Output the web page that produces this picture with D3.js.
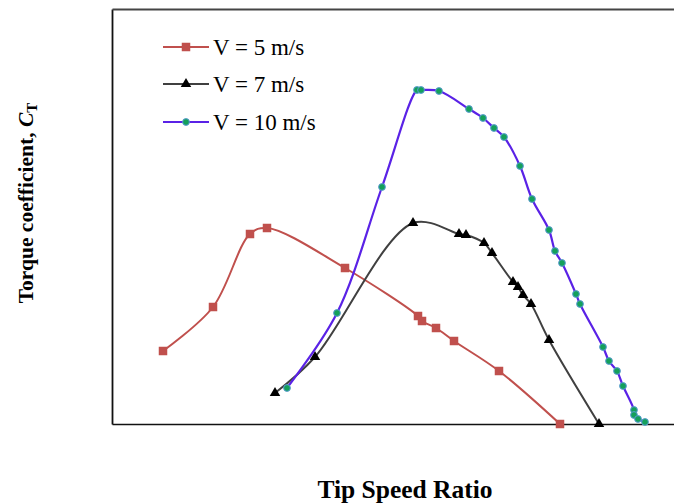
<!DOCTYPE html>
<html>
<head>
<meta charset="utf-8">
<script src="https://cdn.jsdelivr.net/npm/d3@7"></script>
<style>
  html, body { margin: 0; padding: 0; background: #fff; }
  svg { display: block; }
  text { font-family: "Liberation Serif", "Times New Roman", serif; }
</style>
</head>
<body>
<svg id="chart" width="674" height="504"></svg>
<script>
// ---- Data ----
const seriesNames = ["V = 5 m/s", "V = 7 m/s", "V = 10 m/s"];

const tsr5 = [0.51, 1.01, 1.38, 1.55, 2.33, 3.06, 3.10, 3.24, 3.42, 3.87, 4.48];
const ct5  = [0.073, 0.117, 0.190, 0.196, 0.156, 0.108, 0.103, 0.096, 0.083, 0.053, 0.000];

const tsr7 = [1.63, 2.03, 3.01, 3.47, 3.54, 3.72, 3.80, 4.01, 4.06, 4.11, 4.19, 4.37, 4.87];
const ct7  = [0.031, 0.067, 0.201, 0.190, 0.189, 0.181, 0.171, 0.142, 0.137, 0.129, 0.120, 0.084, 0.000];

const tsr10 = [1.75, 2.25, 2.70, 3.05, 3.09, 3.27, 3.57, 3.71, 3.82, 3.92, 4.08, 4.20, 4.37, 4.43, 4.50, 4.64, 4.68, 4.91, 4.97, 5.05, 5.11, 5.22, 5.22, 5.26, 5.33];
const ct10  = [0.036, 0.111, 0.237, 0.334, 0.334, 0.333, 0.315, 0.306, 0.296, 0.287, 0.258, 0.225, 0.194, 0.173, 0.161, 0.130, 0.120, 0.077, 0.063, 0.053, 0.038, 0.014, 0.009, 0.005, 0.002];

const xDomain = [0, 5.62];
const yDomain = [0, 0.415];

// ---- Layout ----
const svg = d3.select("#chart");
const L = 112, R = 674, T = 9, B = 424;

const x = d3.scaleLinear().domain(xDomain).range([L, R]);
const y = d3.scaleLinear().domain(yDomain).range([B, T]);

const series = [
  { name: seriesNames[0], xs: tsr5,  ys: ct5,  line: "#c0504d", sym: "square" },
  { name: seriesNames[1], xs: tsr7,  ys: ct7,  line: "#404040", sym: "triangle" },
  { name: seriesNames[2], xs: tsr10, ys: ct10, line: "#5a22e6", sym: "circle" }
];

// Frame (axes without ticks)
svg.append("g").attr("transform", `translate(0,${B})`)
  .call(d3.axisBottom(x).tickValues([]).tickSizeOuter(0))
  .call(g => g.select(".domain").attr("stroke", "#111").attr("stroke-width", 1.6));
svg.append("g").attr("transform", `translate(${L},0)`)
  .call(d3.axisLeft(y).tickValues([]).tickSizeOuter(0))
  .call(g => g.select(".domain").attr("stroke", "#111").attr("stroke-width", 1.8));
svg.append("g").attr("transform", `translate(0,${T})`)
  .call(d3.axisTop(x).tickValues([]).tickSizeOuter(0))
  .call(g => g.select(".domain").attr("stroke", "#444").attr("stroke-width", 2));

const line = d3.line().x(d => x(d[0])).y(d => y(d[1])).curve(d3.curveCatmullRom.alpha(0.5));

function drawMarker(g, sym, cx, cy) {
  if (sym === "square") {
    g.append("rect").attr("x", cx - 4).attr("y", cy - 4).attr("width", 8).attr("height", 8)
      .attr("fill", "#c0504d").attr("stroke", "#c0504d").attr("stroke-width", 0.5);
  } else if (sym === "triangle") {
    g.append("path").attr("transform", `translate(${cx},${cy})`)
      .attr("d", d3.symbol().type(d3.symbolTriangle).size(48)())
      .attr("fill", "#000");
  } else {
    g.append("circle").attr("cx", cx).attr("cy", cy).attr("r", 3.4)
      .attr("fill", "#14a05a").attr("stroke", "#5b9bd5").attr("stroke-width", 1);
  }
}

series.forEach(s => {
  const pts = s.xs.map((v, i) => [v, s.ys[i]]);
  svg.append("path").datum(pts).attr("d", line)
    .attr("fill", "none").attr("stroke", s.line).attr("stroke-width", s.sym === "circle" ? 2.2 : 2);
  const g = svg.append("g");
  pts.forEach(p => drawMarker(g, s.sym, x(p[0]), y(p[1])));
});

// Legend
const legY = [47, 84, 122];
series.forEach((s, i) => {
  const g = svg.append("g");
  g.append("line").attr("x1", 163).attr("x2", 209).attr("y1", legY[i]).attr("y2", legY[i])
    .attr("stroke", s.line).attr("stroke-width", 2);
  drawMarker(g, s.sym, 186, legY[i]);
  g.append("text").attr("x", 213).attr("y", legY[i] + 7.5)
    .attr("font-size", 23).attr("fill", "#000").text(s.name);
});

// Axis titles
svg.append("text").attr("x", 405).attr("y", 498).attr("text-anchor", "middle")
  .attr("font-size", 25.5).attr("font-weight", "bold").text("Tip Speed Ratio");

const yt = svg.append("text").attr("transform", "translate(33,203) rotate(-90)")
  .attr("text-anchor", "middle").attr("font-size", 21.5).attr("font-weight", "bold");
yt.append("tspan").text("Torque coefficient, ");
yt.append("tspan").attr("font-style", "italic").text("C");
yt.append("tspan").attr("font-size", 15).attr("dy", 4).text("T");
</script>
</body>
</html>
